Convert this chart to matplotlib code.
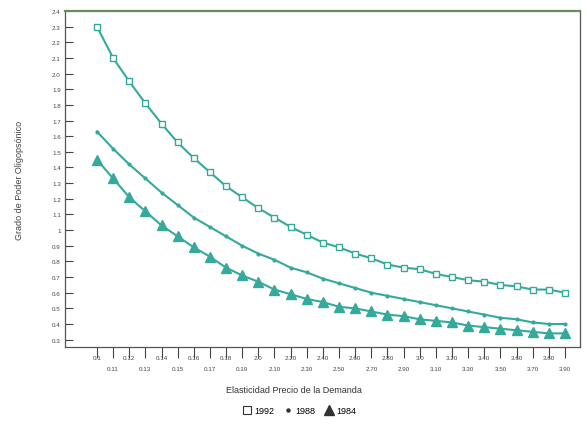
import matplotlib
matplotlib.use("Agg")
import matplotlib.pyplot as plt
from matplotlib.lines import Line2D
import numpy as np

plt.rcParams['font.family'] = ['Liberation Sans', 'DejaVu Sans']

x_labels = ["0.1", "0.11", "0.12", "0.13", "0.14", "0.15", "0.16", "0.17", "0.18", "0.19",
            "2.0", "2.10", "2.20", "2.30", "2.40", "2.50", "2.60", "2.70", "2.80", "2.90",
            "3.0", "3.10", "3.20", "3.30", "3.40", "3.50", "3.60", "3.70", "3.80", "3.90"]

s1992 = [2.30, 2.10, 1.95, 1.81, 1.68, 1.56, 1.46, 1.37, 1.28, 1.21,
         1.14, 1.08, 1.02, 0.97, 0.92, 0.89, 0.85, 0.82, 0.78, 0.76,
         0.75, 0.72, 0.70, 0.68, 0.67, 0.65, 0.64, 0.62, 0.62, 0.60]
s1988 = [1.63, 1.52, 1.42, 1.33, 1.24, 1.16, 1.08, 1.02, 0.96, 0.90,
         0.85, 0.81, 0.76, 0.73, 0.69, 0.66, 0.63, 0.60, 0.58, 0.56,
         0.54, 0.52, 0.50, 0.48, 0.46, 0.44, 0.43, 0.41, 0.40, 0.40]
s1984 = [1.45, 1.33, 1.21, 1.12, 1.03, 0.96, 0.89, 0.83, 0.76, 0.71,
         0.67, 0.62, 0.59, 0.56, 0.54, 0.51, 0.50, 0.48, 0.46, 0.45,
         0.43, 0.42, 0.41, 0.39, 0.38, 0.37, 0.36, 0.35, 0.34, 0.34]

y_ticks = [round(0.3 + 0.1 * k, 1) for k in range(22)]

teal = '#35a99b'

fig = plt.figure(figsize=(5.87, 4.27), dpi=100)
ax = fig.add_axes([65/587, 1 - 348/427, (580-65)/587, (348-12)/427])

x = np.arange(len(x_labels))
ax.plot(x, s1992, color=teal, lw=1.5, marker='s', ms=4.0, mfc='white', mec=teal, mew=1.0)
ax.plot(x, s1988, color=teal, lw=1.5, marker='o', ms=2.0, mfc=teal, mec=teal)
ax.plot(x, s1984, color=teal, lw=1.5, marker='^', ms=6.8, mfc=teal, mec=teal)

ax.set_xlim(-1.98, 29.93)
ax.set_ylim(0.253, 2.4)

ax.set_yticks(y_ticks)
ax.set_yticklabels(["1" if abs(v - 1) < 1e-9 else f"{v:.1f}" for v in y_ticks], fontsize=4.5, color='#444444')
ax.tick_params(axis='y', direction='in', length=6, width=0.8, pad=3, colors='#444444')

ax.set_xticks(x)
ax.set_xticklabels([])
ax.tick_params(axis='x', direction='out', length=8, width=0.8, colors='#444444')
for i, lab in enumerate(x_labels):
    yoff = -13 if i % 2 == 0 else -24
    ax.annotate(lab, xy=(i, 0), xycoords=('data', 'axes fraction'), xytext=(0, yoff),
                textcoords='offset pixels', ha='center', va='bottom', fontsize=4.5, color='#444444')

for s in ax.spines.values():
    s.set_color('#555555')
    s.set_linewidth(0.9)
ax.spines['top'].set_color('#6a8a60')
ax.spines['top'].set_linewidth(1.6)

ax.set_ylabel("Grado de Poder Oligopsónico", fontsize=6.5, color='#444444')
ax.yaxis.set_label_coords(-0.08, 0.5)
fig.text(0.5, 1 - 391/427, "Elasticidad Precio de la Demanda", ha='center', va='center',
         fontsize=6.5, color='#333333')

handles = [Line2D([], [], ls='none', marker='s', ms=6, mfc='white', mec='#333333', mew=0.8),
           Line2D([], [], ls='none', marker='o', ms=2.2, mfc='#333333', mec='#333333'),
           Line2D([], [], ls='none', marker='^', ms=7, mfc='#333333', mec='#333333')]
fig.legend(handles, ["1992", "1988", "1984"], loc='center', bbox_to_anchor=(0.51, 1 - 412/427),
           ncol=3, frameon=False, fontsize=6.5, handletextpad=0.3, columnspacing=1.0,
           handlelength=1.0)

fig.savefig("out.png", dpi=100)
